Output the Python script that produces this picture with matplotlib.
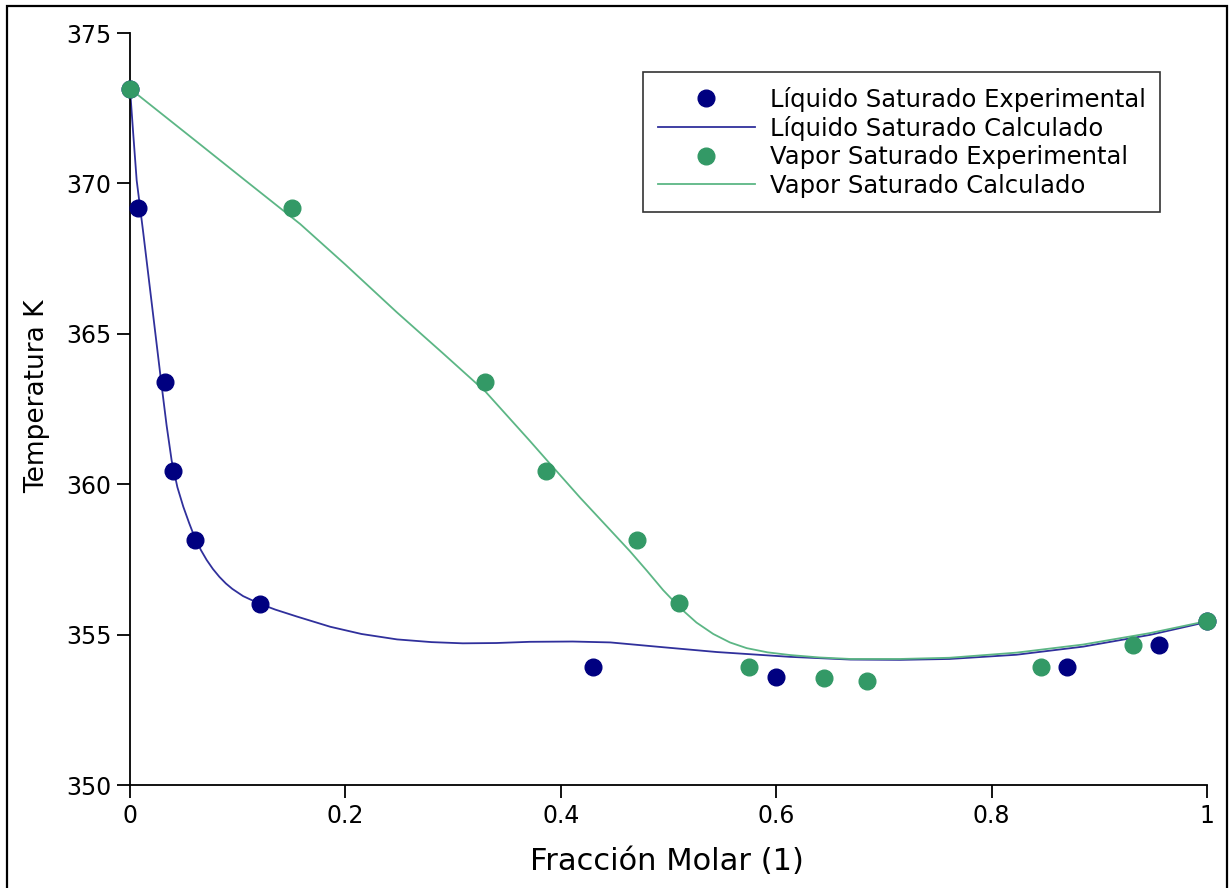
import matplotlib
matplotlib.use("Agg")
import matplotlib.pyplot as plt
from matplotlib.patches import Rectangle
from matplotlib.ticker import FuncFormatter

# Experimental bubble / dew points
x_liq_exp = [0.0, 0.0074, 0.0325, 0.0396, 0.0604, 0.1207, 0.4296, 0.600, 0.870, 0.955, 1.0]
t_liq_exp = [373.15, 369.17, 363.39, 360.45, 358.14, 356.03, 353.93, 353.58, 353.93, 354.67, 355.45]

x_vap_exp = [0.0, 0.150, 0.3296, 0.386, 0.471, 0.510, 0.5747, 0.644, 0.684, 0.846, 0.931, 1.0]
t_vap_exp = [373.15, 369.17, 363.39, 360.45, 358.14, 356.04, 353.93, 353.56, 353.46, 353.93, 354.65, 355.45]

# Calculated curves (model)
x_liq_calc = [0.0, 0.0031, 0.0062, 0.0121, 0.0198, 0.0293, 0.0340, 0.0387, 0.0440,
              0.0495, 0.0550, 0.0604, 0.0660, 0.0712, 0.0770, 0.0830, 0.0890, 0.0950,
              0.1050, 0.1200, 0.1350, 0.1550, 0.1860, 0.2150, 0.2480, 0.2800, 0.3090,
              0.3400, 0.3710, 0.4110, 0.4460, 0.4950, 0.5450, 0.6130, 0.6690, 0.7150,
              0.7610, 0.8230, 0.8850, 0.9470, 1.0]
t_liq_calc = [373.15, 371.60, 370.10, 368.42, 366.13, 363.30, 361.95, 360.78, 359.90,
              359.25, 358.70, 358.20, 357.80, 357.48, 357.18, 356.92, 356.70, 356.52,
              356.28, 356.03, 355.83, 355.60, 355.26, 355.02, 354.84, 354.75, 354.71,
              354.72, 354.76, 354.77, 354.74, 354.58, 354.42, 354.26, 354.17, 354.16,
              354.19, 354.33, 354.60, 354.99, 355.42]

x_vap_calc = [0.0, 0.065, 0.107, 0.158, 0.200, 0.2476, 0.290, 0.330, 0.371, 0.387,
              0.418, 0.444, 0.464, 0.480, 0.495, 0.511, 0.526, 0.5416, 0.557, 0.5726,
              0.592, 0.613, 0.640, 0.669, 0.715, 0.761, 0.823, 0.885, 0.947, 1.0]
t_vap_calc = [373.15, 371.30, 370.10, 368.65, 367.30, 365.72, 364.37, 363.08, 361.45, 360.80,
              359.55, 358.55, 357.78, 357.12, 356.48, 355.88, 355.40, 355.02, 354.74, 354.55,
              354.41, 354.32, 354.24, 354.19, 354.19, 354.23, 354.40, 354.67, 355.05, 355.45]

labels = ["Líquido Saturado Experimental", "Líquido Saturado Calculado",
          "Vapor Saturado Experimental", "Vapor Saturado Calculado"]

navy = "#000080"
navy_line = "#30309c"
green = "#339966"
green_line = "#5cb685"

fig = plt.figure(figsize=(12.31, 8.88), dpi=100)
ax = fig.add_axes([130 / 1231, 1 - 785 / 888, 1077 / 1231, 752 / 888])

ax.plot(x_liq_exp, t_liq_exp, "o", color=navy, markersize=12, clip_on=False,
        label=labels[0], zorder=3)
ax.plot(x_liq_calc, t_liq_calc, "-", color=navy_line, linewidth=1.3, clip_on=False,
        label=labels[1], zorder=2)
ax.plot(x_vap_exp, t_vap_exp, "o", color=green, markersize=12, clip_on=False,
        label=labels[2], zorder=3)
ax.plot(x_vap_calc, t_vap_calc, "-", color=green_line, linewidth=1.3, clip_on=False,
        label=labels[3], zorder=2)

ax.set_xlim(0, 1)
ax.set_ylim(350, 375)
ax.set_xticks([0, 0.2, 0.4, 0.6, 0.8, 1])
ax.set_yticks([350, 355, 360, 365, 370, 375])
ax.xaxis.set_major_formatter(FuncFormatter(lambda v, p: f"{v:g}"))

for side in ("top", "right"):
    ax.spines[side].set_visible(False)
for side in ("left", "bottom"):
    ax.spines[side].set_linewidth(1.3)

ax.tick_params(axis="both", direction="out", length=9.5, width=1.3, labelsize=17,
               colors="black")
ax.tick_params(axis="y", pad=4)
ax.tick_params(axis="x", pad=4)

ax.set_xlabel("Fracción Molar (1)", fontsize=22)
ax.set_ylabel("Temperatura K", fontsize=19)
ax.xaxis.set_label_coords(0.499, -0.083, transform=ax.transAxes)
ax.yaxis.set_label_coords(-0.074, 0.517, transform=ax.transAxes)

leg = ax.legend(loc="upper right", bbox_to_anchor=(1160 / 1231, 1 - 72 / 888),
                bbox_transform=fig.transFigure, borderaxespad=0, fontsize=17.5,
                numpoints=1, handlelength=4.0, handletextpad=0.6, labelspacing=0.18,
                borderpad=0.6, fancybox=False, framealpha=1)
leg.get_frame().set_edgecolor("#333333")
leg.get_frame().set_linewidth(1.2)

# black frame round the whole figure
fig.patches.append(Rectangle((7 / 1231, -0.02), 1220 / 1231, 1 - 6 / 888 + 0.02,
                             transform=fig.transFigure, fill=False,
                             edgecolor="black", linewidth=1.6))

fig.savefig("out.png", dpi=100)
